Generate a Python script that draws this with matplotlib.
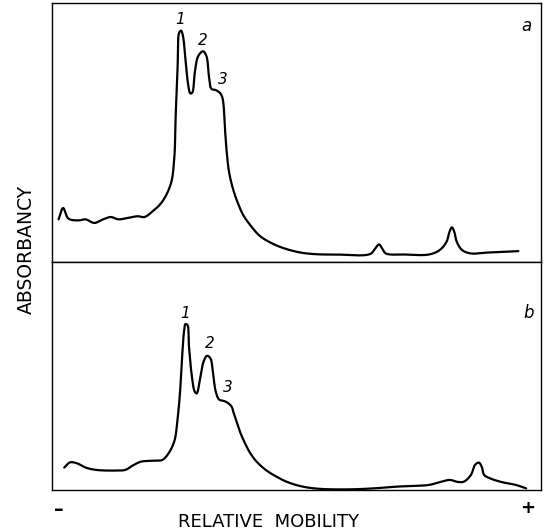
import numpy as np
import matplotlib
matplotlib.use("Agg")
import matplotlib.pyplot as plt

# Panel a densitometer trace (relative mobility 0-100, absorbancy 0-100)
mob_a = [1.35, 2.27, 3.34, 5.46, 6.88, 8.66, 10.43, 12.0, 13.6, 15.4, 17.5, 18.9, 20.4, 22.5,
         24.3, 25.0, 25.3, 25.7, 26.0, 26.4, 26.8, 27.3, 27.8, 28.3, 28.7, 29.2, 29.9, 30.9,
         31.6, 32.1, 32.6, 33.5, 34.4, 34.85, 35.1, 35.4, 35.7, 36.05, 36.4, 37.08, 37.9, 39.1,
         40.5, 42.5, 44.9, 47.3, 50.7, 54.1, 58.0, 65.1, 66.1, 66.9, 67.6, 68.3, 72.2, 77.1,
         79.3, 80.7, 81.3, 81.8, 82.3, 82.8, 83.9, 85.7, 88.5, 92.1, 95.4]
abs_a = [16.4, 20.8, 16.7, 16.0, 16.4, 15.0, 16.4, 17.3, 16.4, 16.9, 17.6, 17.3, 19.2, 23.1,
         30.1, 39.7, 56.4, 75.6, 88.5, 89.4, 87.2, 78.2, 69.2, 65.1, 65.4, 73.1, 79.5, 81.4,
         79.5, 71.8, 66.9, 66.4, 65.2, 63.5, 60.5, 51.0, 43.3, 36.8, 32.9, 27.8, 23.3, 18.1,
         14.3, 10.0, 7.2, 5.3, 3.6, 2.9, 2.8, 3.0, 5.1, 6.7, 4.9, 3.2, 2.8, 2.8,
         4.5, 7.7, 11.5, 13.3, 11.5, 7.7, 4.5, 3.2, 3.5, 3.8, 4.1]

# Panel b densitometer trace
mob_b = [2.5, 3.7, 5.1, 6.9, 9.0, 12.6, 15.0, 16.5, 18.2, 20.4, 22.5, 23.6, 25.0, 25.7,
         26.2, 26.6, 27.0, 27.3, 27.7, 28.0, 28.5, 29.2, 29.6, 30.3, 31.0, 31.7, 32.4, 32.9,
         33.5, 34.2, 35.2, 36.05, 36.75, 37.08, 37.77, 38.45, 39.47, 40.5, 41.86, 43.9, 45.95,
         48.0, 50.7, 54.1, 60.1, 65.8, 70.8, 74.3, 77.1, 79.3, 81.4, 82.8, 84.2, 85.7, 86.5,
         87.3, 87.9, 88.4, 89.6, 92.1, 94.9, 97.0]
abs_b = [9.8, 12.1, 11.7, 9.8, 8.8, 8.5, 8.8, 10.7, 12.4, 12.8, 13.1, 15.3, 21.2, 31.4,
         43.1, 57.7, 69.3, 72.7, 72.3, 63.5, 51.8, 43.1, 42.3, 48.9, 56.2, 58.8, 57.7, 51.8,
         43.1, 39.6, 39.0, 38.0, 36.5, 34.3, 29.9, 25.5, 20.5, 16.3, 12.4, 8.5, 5.8,
         3.6, 1.75, 0.6, 0.25, 0.7, 1.5, 1.8, 2.2, 3.4, 4.4, 3.6, 3.6, 6.6, 10.9,
         12.0, 10.2, 6.6, 5.1, 3.4, 2.2, 0.7]

# Peak labels
peak_labels = ["1", "2", "3"]
peak_pos_a = [(26.2, 93.5), (30.9, 85.5), (34.9, 70.5)]
peak_pos_b = [(27.3, 77.5), (32.2, 64.0), (36.0, 45.0)]
panel_labels = ["a", "b"]


def centripetal_cr(x, y, sx=4.9, sy=2.5, n=40):
    # Centripetal Catmull-Rom curve through the read points (in screen-like units)
    P = np.column_stack([np.asarray(x, float) * sx, np.asarray(y, float) * sy])
    P = np.vstack([2 * P[0] - P[1], P, 2 * P[-1] - P[-2]])
    out = []
    for i in range(1, len(P) - 2):
        p0, p1, p2, p3 = P[i - 1], P[i], P[i + 1], P[i + 2]
        t0 = 0.0
        t1 = t0 + np.linalg.norm(p1 - p0) ** 0.5
        t2 = t1 + np.linalg.norm(p2 - p1) ** 0.5
        t3 = t2 + np.linalg.norm(p3 - p2) ** 0.5
        t = np.linspace(t1, t2, n)[:, None]
        a1 = (t1 - t) / (t1 - t0) * p0 + (t - t0) / (t1 - t0) * p1
        a2 = (t2 - t) / (t2 - t1) * p1 + (t - t1) / (t2 - t1) * p2
        a3 = (t3 - t) / (t3 - t2) * p2 + (t - t2) / (t3 - t2) * p3
        b1 = (t2 - t) / (t2 - t0) * a1 + (t - t0) / (t2 - t0) * a2
        b2 = (t3 - t) / (t3 - t1) * a2 + (t - t1) / (t3 - t1) * a3
        c = (t2 - t) / (t2 - t1) * b1 + (t - t1) / (t2 - t1) * b2
        out.append(c if i == 1 else c[1:])
    C = np.vstack(out)
    return C[:, 0] / sx, C[:, 1] / sy


fig = plt.figure(figsize=(5.45, 5.32), dpi=100)
ax_a = fig.add_axes([0.0954, 0.508, 0.897, 0.486])
ax_b = fig.add_axes([0.0954, 0.079, 0.897, 0.429])

for ax, mx, my, pos in [(ax_a, mob_a, abs_a, peak_pos_a),
                        (ax_b, mob_b, abs_b, peak_pos_b)]:
    cx, cy = centripetal_cr(mx, my)
    ax.plot(cx, cy, color="black", lw=1.6,
            solid_capstyle="round", solid_joinstyle="round")
    ax.set_xlim(0, 100)
    ax.set_ylim(0, 100)
    ax.set_xticks([]); ax.set_yticks([])
    for s in ax.spines.values():
        s.set_linewidth(1.0)
    for t, (px, py) in zip(peak_labels, pos):
        ax.text(px, py, t, ha="center", va="center", fontsize=11, style="italic")

ax_a.text(97.0, 91, panel_labels[0], ha="center", va="center", fontsize=12, style="italic")
ax_b.text(97.4, 77.4, panel_labels[1], ha="center", va="center", fontsize=12, style="italic")

fig.text(0.108, 0.043, "–", ha="center", va="center", fontsize=14, fontweight="bold")
fig.text(0.969, 0.045, "+", ha="center", va="center", fontsize=13, fontweight="bold")
fig.text(0.492, 0.019, "RELATIVE  MOBILITY", ha="center", va="center", fontsize=13)
fig.text(0.049, 0.532, "ABSORBANCY", ha="center", va="center", fontsize=13.5, rotation=90)

fig.savefig("out.png", dpi=100)
